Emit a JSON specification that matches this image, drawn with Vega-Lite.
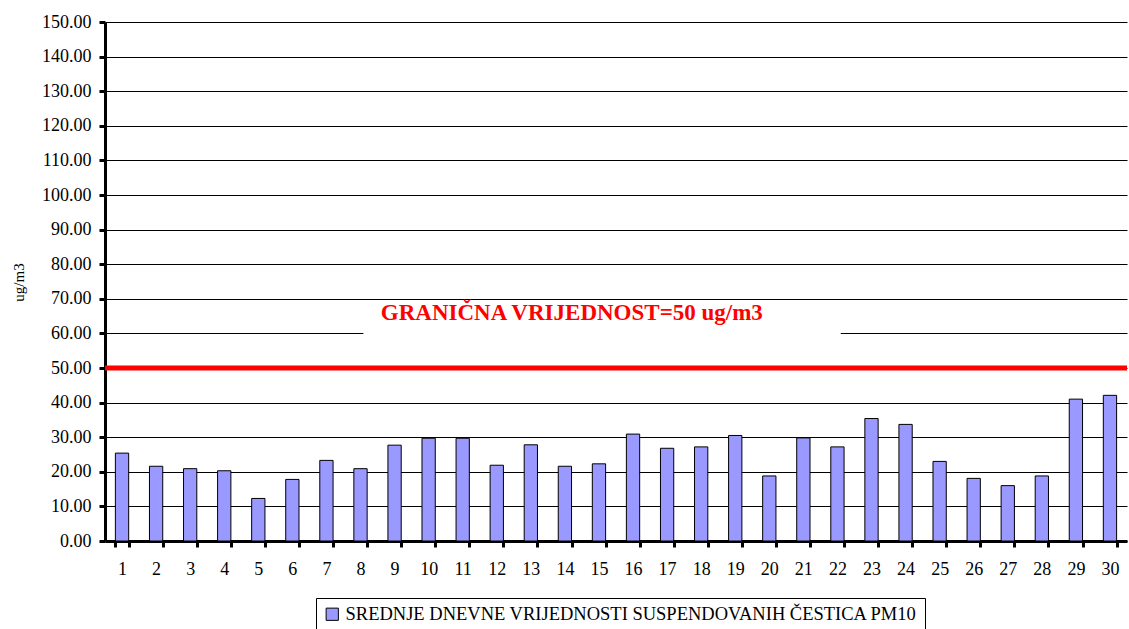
{
  "$schema": "https://vega.github.io/schema/vega-lite/v6.json",
  "width": 1022,
  "height": 519,
  "autosize": {"type": "none"},
  "padding": {"left": 105, "top": 22, "right": 2, "bottom": 88},
  "background": "white",
  "config": {
    "view": {"stroke": null},
    "font": "Liberation Serif",
    "axis": {"labelFont": "Liberation Serif", "titleFont": "Liberation Serif", "labelColor": "black", "titleColor": "black"}
  },
  "data": {"values": [
    {"day": 1, "value": 25.4, "series": "SREDNJE DNEVNE VRIJEDNOSTI SUSPENDOVANIH ČESTICA PM10"},
    {"day": 2, "value": 21.6, "series": "SREDNJE DNEVNE VRIJEDNOSTI SUSPENDOVANIH ČESTICA PM10"},
    {"day": 3, "value": 20.9, "series": "SREDNJE DNEVNE VRIJEDNOSTI SUSPENDOVANIH ČESTICA PM10"},
    {"day": 4, "value": 20.3, "series": "SREDNJE DNEVNE VRIJEDNOSTI SUSPENDOVANIH ČESTICA PM10"},
    {"day": 5, "value": 12.3, "series": "SREDNJE DNEVNE VRIJEDNOSTI SUSPENDOVANIH ČESTICA PM10"},
    {"day": 6, "value": 17.8, "series": "SREDNJE DNEVNE VRIJEDNOSTI SUSPENDOVANIH ČESTICA PM10"},
    {"day": 7, "value": 23.3, "series": "SREDNJE DNEVNE VRIJEDNOSTI SUSPENDOVANIH ČESTICA PM10"},
    {"day": 8, "value": 20.9, "series": "SREDNJE DNEVNE VRIJEDNOSTI SUSPENDOVANIH ČESTICA PM10"},
    {"day": 9, "value": 27.7, "series": "SREDNJE DNEVNE VRIJEDNOSTI SUSPENDOVANIH ČESTICA PM10"},
    {"day": 10, "value": 29.7, "series": "SREDNJE DNEVNE VRIJEDNOSTI SUSPENDOVANIH ČESTICA PM10"},
    {"day": 11, "value": 29.7, "series": "SREDNJE DNEVNE VRIJEDNOSTI SUSPENDOVANIH ČESTICA PM10"},
    {"day": 12, "value": 21.9, "series": "SREDNJE DNEVNE VRIJEDNOSTI SUSPENDOVANIH ČESTICA PM10"},
    {"day": 13, "value": 27.8, "series": "SREDNJE DNEVNE VRIJEDNOSTI SUSPENDOVANIH ČESTICA PM10"},
    {"day": 14, "value": 21.6, "series": "SREDNJE DNEVNE VRIJEDNOSTI SUSPENDOVANIH ČESTICA PM10"},
    {"day": 15, "value": 22.3, "series": "SREDNJE DNEVNE VRIJEDNOSTI SUSPENDOVANIH ČESTICA PM10"},
    {"day": 16, "value": 30.9, "series": "SREDNJE DNEVNE VRIJEDNOSTI SUSPENDOVANIH ČESTICA PM10"},
    {"day": 17, "value": 26.8, "series": "SREDNJE DNEVNE VRIJEDNOSTI SUSPENDOVANIH ČESTICA PM10"},
    {"day": 18, "value": 27.2, "series": "SREDNJE DNEVNE VRIJEDNOSTI SUSPENDOVANIH ČESTICA PM10"},
    {"day": 19, "value": 30.5, "series": "SREDNJE DNEVNE VRIJEDNOSTI SUSPENDOVANIH ČESTICA PM10"},
    {"day": 20, "value": 18.8, "series": "SREDNJE DNEVNE VRIJEDNOSTI SUSPENDOVANIH ČESTICA PM10"},
    {"day": 21, "value": 29.8, "series": "SREDNJE DNEVNE VRIJEDNOSTI SUSPENDOVANIH ČESTICA PM10"},
    {"day": 22, "value": 27.2, "series": "SREDNJE DNEVNE VRIJEDNOSTI SUSPENDOVANIH ČESTICA PM10"},
    {"day": 23, "value": 35.4, "series": "SREDNJE DNEVNE VRIJEDNOSTI SUSPENDOVANIH ČESTICA PM10"},
    {"day": 24, "value": 33.7, "series": "SREDNJE DNEVNE VRIJEDNOSTI SUSPENDOVANIH ČESTICA PM10"},
    {"day": 25, "value": 23.0, "series": "SREDNJE DNEVNE VRIJEDNOSTI SUSPENDOVANIH ČESTICA PM10"},
    {"day": 26, "value": 18.1, "series": "SREDNJE DNEVNE VRIJEDNOSTI SUSPENDOVANIH ČESTICA PM10"},
    {"day": 27, "value": 16.0, "series": "SREDNJE DNEVNE VRIJEDNOSTI SUSPENDOVANIH ČESTICA PM10"},
    {"day": 28, "value": 18.8, "series": "SREDNJE DNEVNE VRIJEDNOSTI SUSPENDOVANIH ČESTICA PM10"},
    {"day": 29, "value": 41.0, "series": "SREDNJE DNEVNE VRIJEDNOSTI SUSPENDOVANIH ČESTICA PM10"},
    {"day": 30, "value": 42.1, "series": "SREDNJE DNEVNE VRIJEDNOSTI SUSPENDOVANIH ČESTICA PM10"}
  ]},
  "encoding": {
    "y": {
      "field": "value", "type": "quantitative",
      "scale": {"domain": [0, 150], "nice": false, "zero": true},
      "axis": {
        "title": "ug/m3", "titleFontSize": 15, "titleFontWeight": "normal",
        "titleAngle": -90, "titleX": -87, "titleY": 260, "titleAlign": "center", "titleBaseline": "middle",
        "values": [0, 10, 20, 30, 40, 50, 60, 70, 80, 90, 100, 110, 120, 130, 140, 150],
        "format": ".2f", "labelFontSize": 18, "labelPadding": 8,
        "labelOverlap": false, "labelFlush": false, "labelBound": false,
        "tickSize": 6, "tickWidth": 3, "tickColor": "black",
        "domainColor": "black", "domainWidth": 3,
        "grid": true, "gridColor": "black", "gridWidth": 1, "gridOpacity": 1
      }
    }
  },
  "layer": [
    {
      "mark": {"type": "bar", "stroke": "black", "strokeWidth": 1},
      "encoding": {
        "x": {
          "field": "day", "type": "ordinal",
          "scale": {"paddingInner": 0.61, "paddingOuter": 0.305},
          "axis": {
            "title": null, "labelAngle": 0, "labelFontSize": 18, "labelPadding": 13,
            "labelOverlap": false, "labelFlush": false,
            "tickBand": "extent", "tickSize": 6, "tickWidth": 3, "tickColor": "black",
            "domainColor": "black", "domainWidth": 3, "grid": false
          }
        },
        "color": {
          "field": "series", "type": "nominal",
          "scale": {"range": ["#9999FF"]},
          "legend": {
            "title": null, "orient": "none", "legendX": 211, "legendY": 576,
            "symbolType": "square", "symbolSize": 150, "symbolStrokeColor": "black", "symbolStrokeWidth": 1,
            "labelFont": "Liberation Serif", "labelFontSize": 18.5, "labelColor": "black", "labelLimit": 900,
            "strokeColor": "black", "fillColor": "white", "padding": 7, "labelOffset": 4
          }
        }
      }
    },
    {
      "transform": [{"filter": "datum.day == 1"}],
      "mark": {"type": "bar", "fill": "white", "stroke": null},
      "encoding": {
        "x": {"datum": 8, "type": "ordinal", "bandPosition": 0.72},
        "x2": {"datum": 22, "bandPosition": 0.75},
        "y": {"datum": 57},
        "y2": {"datum": 69}
      }
    },
    {
      "transform": [{"filter": "datum.day == 1"}],
      "mark": {"type": "text", "color": "#FF0000", "font": "Liberation Serif", "fontSize": 23, "fontWeight": "bold", "align": "center", "baseline": "middle"},
      "encoding": {
        "x": {"datum": 14, "type": "ordinal", "bandPosition": 1.02},
        "y": {"datum": 65.9},
        "text": {"value": "GRANIČNA VRIJEDNOST=50 ug/m3"}
      }
    },
    {
      "transform": [{"filter": "datum.day == 1"}],
      "mark": {"type": "rule", "color": "#FF0000", "strokeWidth": 5},
      "encoding": {"y": {"datum": 50}}
    }
  ]
}
